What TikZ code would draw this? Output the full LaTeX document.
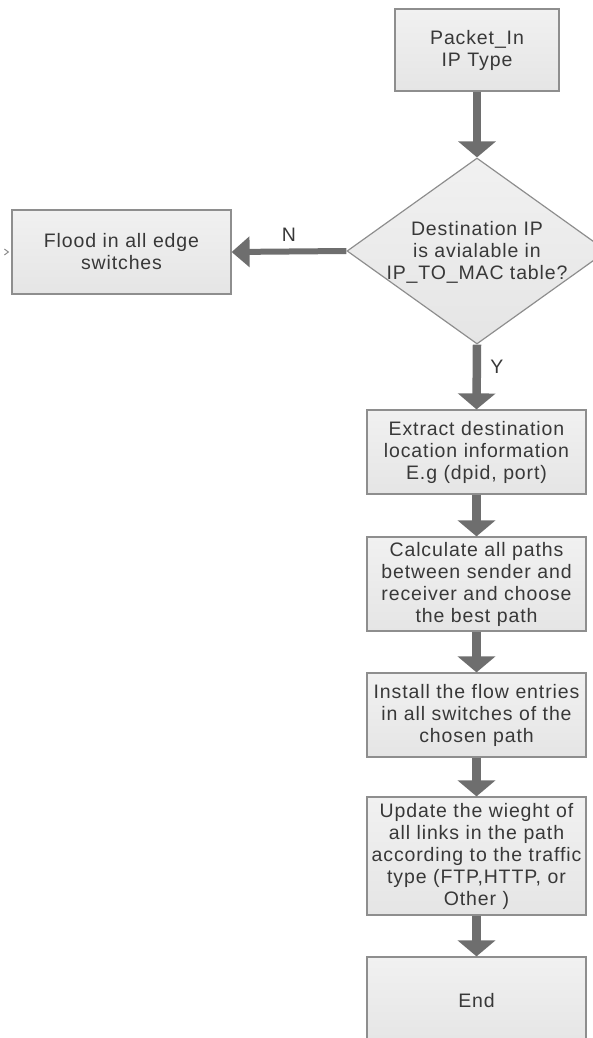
\documentclass[tikz,border=0pt]{standalone}
\usepackage{fontspec}
\setmainfont{Liberation Sans}[LetterSpace=4.5]
\usetikzlibrary{shapes.geometric,arrows.meta}
\definecolor{boxline}{HTML}{8E8E8E}
\definecolor{boxtop}{HTML}{F1F1F1}
\definecolor{boxbot}{HTML}{E5E5E5}
\definecolor{arrowgray}{HTML}{6E6E6E}
\definecolor{txtgray}{HTML}{383838}
\begin{document}
\begin{tikzpicture}[x=1pt,y=-1pt,
  shaded/.style={draw=boxline, line width=1.2pt, top color=boxtop, bottom color=boxbot, inner sep=0pt},
  txt/.style={font=\fontsize{19.5}{22}\selectfont, text=txtgray, align=center},
  stepbox/.style={shaded, txt, rectangle, minimum width=219pt, text width=217pt},
  decision/.style={shaded, diamond, minimum width=260pt, minimum height=186pt},
  flow/.style={draw=arrowgray, line width=8.5pt, -{Triangle[width=37pt,length=16pt]}},
  sideflow/.style={draw=arrowgray, line width=6pt, -{Triangle[width=30pt,length=18pt]}},
  lbl/.style={font=\fontsize{19.5}{22}\selectfont, text=txtgray}
]
\useasboundingbox (0,0) rectangle (593,1038);
\clip (0,0) rectangle (593,1038);

% process boxes
\node[stepbox, minimum width=164pt, text width=160pt, minimum height=82pt] (start) at (477,50) {Packet\_In\\IP Type};
\node[decision] (dec) at (477,251) {};
\node[txt] (dectext) at (477,252) {Destination IP\\ is avialable in\\IP\_TO\_MAC table?};
\node[stepbox, minimum height=84pt] (flood) at (121.5,252) {Flood in all edge\\switches};
\node[stepbox, minimum height=84pt] (extract) at (476.5,452) {Extract destination\\location information\\E.g (dpid, port)};
\node[stepbox, minimum height=94pt] (calc) at (476.5,584) {Calculate all paths\\between sender and\\receiver and choose\\the best path};
\node[stepbox, minimum height=84pt] (install) at (476.5,715) {Install the flow entries\\in all switches of the\\chosen path};
\node[stepbox, minimum height=118pt] (update) at (476.5,856) {Update the wieght of\\all links in the path\\according to the traffic\\type (FTP,HTTP, or\\Other )};
\node[stepbox, minimum height=88pt] (stop) at (476.5,1001) {End};

% connectors
\draw[flow] (start) -- (dec);
\draw[sideflow] (dec.west) -- (flood.east) node[lbl, midway, above=4pt] {N};
\draw[flow] (dec.south) -- (extract.north) node[lbl, pos=0.35, right=6pt] {Y};
\draw[flow] (extract) -- (calc);
\draw[flow] (calc) -- (install);
\draw[flow] (install) -- (update);
\draw[flow] (update) -- (stop);

% small incoming mark at the left edge
\coordinate (mark) at (flood.west);
\draw[boxline, line width=1pt] ([xshift=-7pt,yshift=-3pt]mark) -- ([xshift=-3pt]mark) -- ([xshift=-7pt,yshift=3pt]mark);
\end{tikzpicture}
\end{document}
